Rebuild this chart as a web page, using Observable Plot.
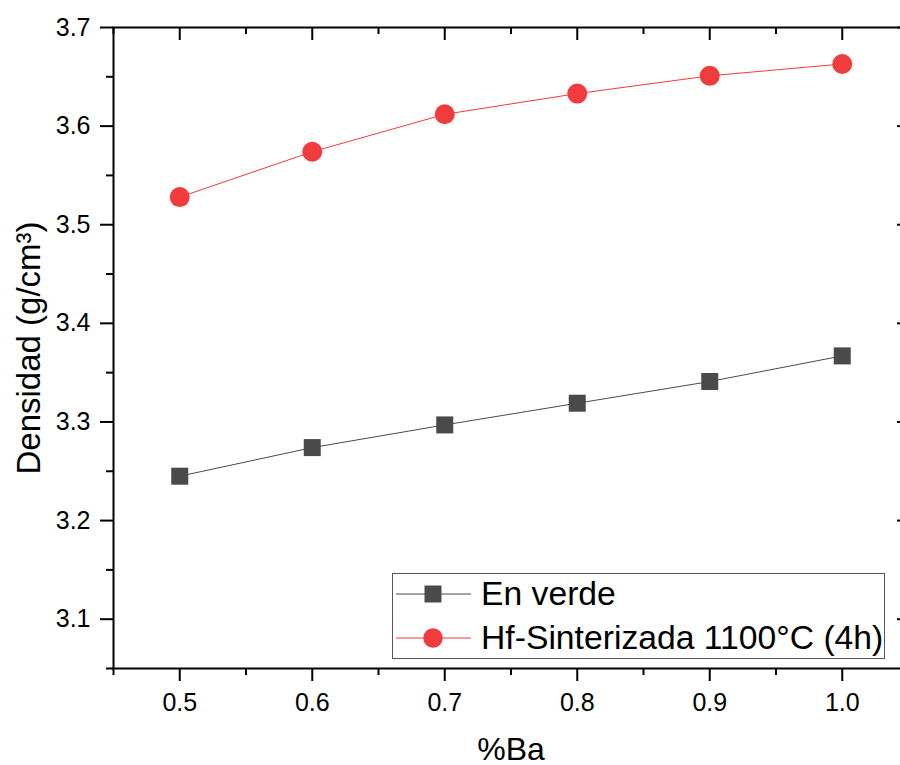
<!DOCTYPE html>
<html>
<head>
<meta charset="utf-8">
<script src="https://cdn.jsdelivr.net/npm/d3@7"></script>
<script src="https://cdn.jsdelivr.net/npm/@observablehq/plot@0.6"></script>
<style>
html, body { margin: 0; padding: 0; background: #fff; overflow: hidden; }
#wrap { position: relative; width: 900px; height: 765px; font-family: "Liberation Sans", Arial, sans-serif; color: #000; }
#legend { position: absolute; left: 392px; top: 573px; width: 491px; height: 84px; border: 1px solid #555; background: #fff; }
.row { position: absolute; left: 0; width: 491px; height: 40px; }
.row svg { position: absolute; left: 0; top: 0; }
.row span { position: absolute; left: 88px; top: 50%; transform: translateY(-50%); font-size: 33.7px; line-height: 1; white-space: nowrap; }
</style>
</head>
<body>
<div id="wrap"><div id="legend"></div></div>
<script>
// ---- data ----
const baPct = [0.5, 0.6, 0.7, 0.8, 0.9, 1.0];
const enVerde = [3.245, 3.274, 3.297, 3.319, 3.341, 3.367];
const sinterizada = [3.528, 3.574, 3.612, 3.633, 3.651, 3.663];
const seriesNames = ["En verde", "Hf-Sinterizada 1100°C (4h)"];
const seriesColors = ["#4a4a4a", "#f03c3c"];
const seriesSymbols = ["square", "circle"];
const xMajorTicks = [0.5, 0.6, 0.7, 0.8, 0.9, 1.0];
const xMinorTicks = [0.45, 0.55, 0.65, 0.75, 0.85, 0.95, 1.05];
const yMajorTicks = [3.1, 3.2, 3.3, 3.4, 3.5, 3.6, 3.7];
const yMinorTicks = [3.05, 3.15, 3.25, 3.35, 3.45, 3.55, 3.65];
const xLabel = "%Ba";
const yLabel = "Densidad (g/cm³)";

const rows = [];
[enVerde, sinterizada].forEach((vals, s) => {
  vals.forEach((v, i) => rows.push({x: baPct[i], y: v, serie: seriesNames[s]}));
});

const fmt = d3.format(".1f");
const blank = () => "";
const font = "'Liberation Sans', Arial, sans-serif";

const marks = [
  Plot.frame({stroke: "black", strokeWidth: 2}),
  // left axis
  Plot.axisY({ticks: yMajorTicks, tickSize: 13, tickPadding: 10, tickFormat: fmt, fontSize: 25, label: null, strokeWidth: 2}),
  Plot.axisY({ticks: yMinorTicks, tickSize: 7, tickFormat: blank, label: null, strokeWidth: 2}),
  // bottom axis
  Plot.axisX({ticks: xMajorTicks, tickSize: 13, tickPadding: 12, tickFormat: fmt, fontSize: 25, label: null, strokeWidth: 2}),
  Plot.axisX({ticks: xMinorTicks, tickSize: 7, tickFormat: blank, label: null, strokeWidth: 2}),
  // top axis (inward)
  Plot.axisX({anchor: "top", ticks: xMajorTicks, tickSize: 12, dy: 12, tickFormat: blank, label: null, strokeWidth: 2}),
  Plot.axisX({anchor: "top", ticks: xMinorTicks, tickSize: 6, dy: 6, tickFormat: blank, label: null, strokeWidth: 2}),
  // right axis (inward)
  Plot.axisY({anchor: "right", ticks: yMajorTicks, tickSize: 12, dx: -12, tickFormat: blank, label: null, strokeWidth: 2}),
  Plot.axisY({anchor: "right", ticks: yMinorTicks, tickSize: 6, dx: -6, tickFormat: blank, label: null, strokeWidth: 2})
];

seriesNames.forEach((name, s) => {
  const data = rows.filter(r => r.serie === name);
  marks.push(Plot.line(data, {x: "x", y: "y", stroke: seriesColors[s], strokeWidth: 1}));
});
seriesNames.forEach((name, s) => {
  const data = rows.filter(r => r.serie === name);
  marks.push(Plot.dot(data, {x: "x", y: "y", symbol: () => seriesSymbols[s], fill: seriesColors[s], stroke: "none", r: s === 0 ? 9.6 : 10}));
});

marks.push(Plot.text([xLabel], {text: d => d, frameAnchor: "bottom", dy: 91, fontSize: 32, lineAnchor: "bottom", textAnchor: "middle"}));
marks.push(Plot.text([yLabel], {text: d => d, frameAnchor: "left", dx: -84, rotate: -90, fontSize: 33, lineAnchor: "middle", textAnchor: "middle"}));

const chart = Plot.plot({
  width: 900,
  height: 765,
  marginLeft: 113,
  marginRight: -8,
  marginTop: 27,
  marginBottom: 97,
  x: {domain: [0.45, 1.05]},
  y: {domain: [3.05, 3.7]},
  symbol: {type: "identity"},
  style: {fontFamily: font, color: "black", background: "white"},
  marks
});
chart.style.overflow = "hidden";
chart.style.display = "block";
const wrap = document.getElementById("wrap");
wrap.insertBefore(chart, wrap.firstChild);

// legend
const legend = document.getElementById("legend");
seriesNames.forEach((name, s) => {
  const row = document.createElement("div");
  row.className = "row";
  row.style.top = (s === 0 ? 0 : 44) + "px";
  const ns = "http://www.w3.org/2000/svg";
  const svg = document.createElementNS(ns, "svg");
  svg.setAttribute("width", "80");
  svg.setAttribute("height", "40");
  const line = document.createElementNS(ns, "line");
  line.setAttribute("x1", "3"); line.setAttribute("x2", "78");
  line.setAttribute("y1", "20"); line.setAttribute("y2", "20");
  line.setAttribute("stroke", seriesColors[s]); line.setAttribute("stroke-width", "1");
  svg.appendChild(line);
  const sym = document.createElementNS(ns, "path");
  const symType = seriesSymbols[s] === "square" ? d3.symbolSquare : d3.symbolCircle;
  sym.setAttribute("d", d3.symbol(symType, s === 0 ? 289 : 300)());
  sym.setAttribute("transform", "translate(40,20)");
  sym.setAttribute("fill", seriesColors[s]);
  svg.appendChild(sym);
  row.appendChild(svg);
  const span = document.createElement("span");
  span.textContent = name;
  row.appendChild(span);
  legend.appendChild(row);
});
</script>
</body>
</html>
